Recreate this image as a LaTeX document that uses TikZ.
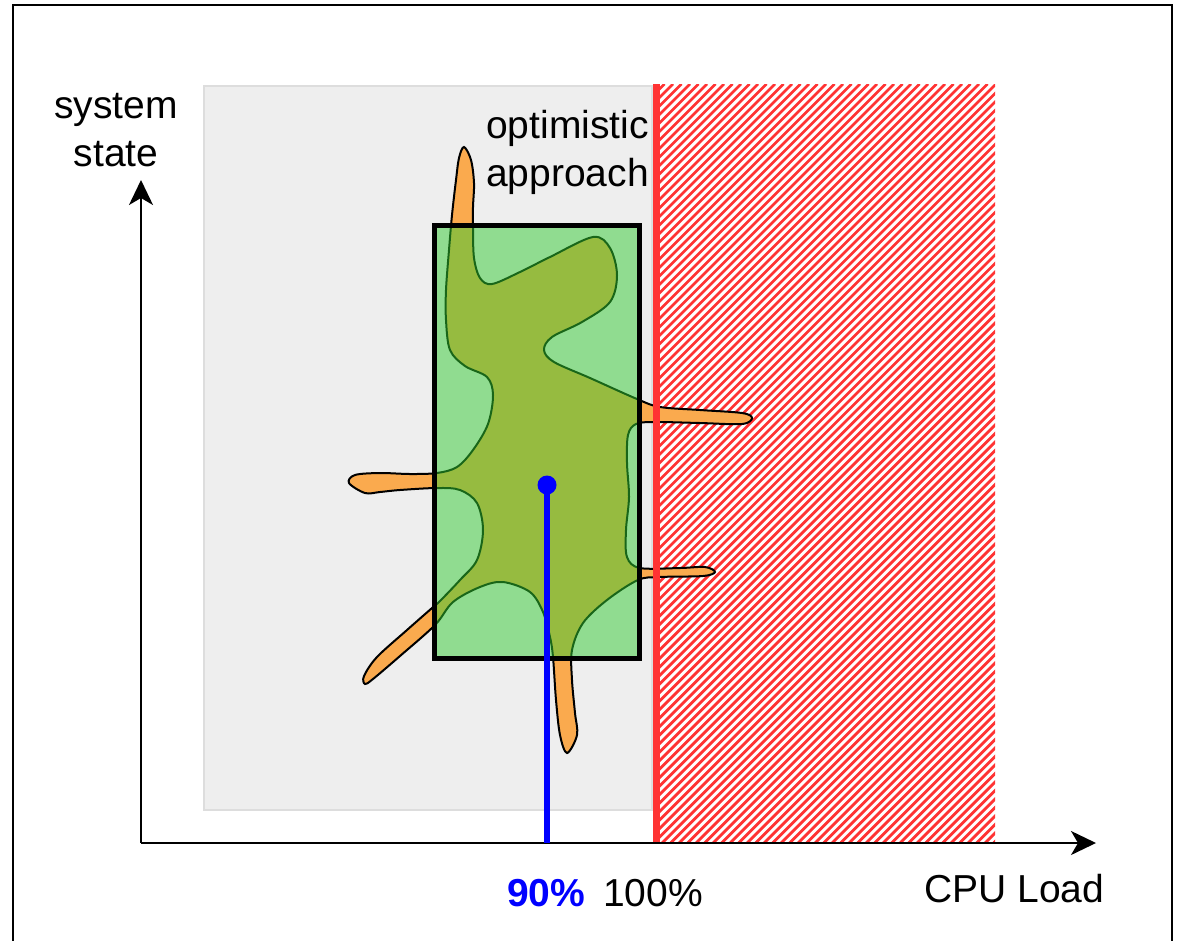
\documentclass[tikz,border=0pt]{standalone}
\usepackage{fontspec}
\setmainfont{Liberation Sans}
\usetikzlibrary{arrows.meta}
\definecolor{bggray}{HTML}{EEEEEE}
\definecolor{bgedge}{HTML}{DDDDDD}
\definecolor{hatchred}{HTML}{FF3333}
\definecolor{blobor}{HTML}{FAAA4E}
\definecolor{boxgreen}{HTML}{33CC33}
\definecolor{ptblue}{HTML}{0000FF}
\begin{document}
\begin{tikzpicture}[x=1pt,y=-1pt,
  lbl/.style={font=\fontsize{39}{48}\selectfont, inner sep=0pt},
  axisline/.style={line width=2pt, black, -{Stealth[length=25pt,width=24pt,inset=7pt]}},
  hatchline/.style={hatchred, line width=2.8pt},
  framestyle/.style={line width=2pt, black},
  regionbox/.style={fill=bggray, draw=bgedge, line width=2pt},
  blobstyle/.style={fill=blobor, draw=black, line width=2pt},
  windowbox/.style={fill=boxgreen, fill opacity=0.5, draw=black, draw opacity=1, line width=5pt},
  limitline/.style={hatchred, line width=7pt},
  meanline/.style={ptblue, line width=5.5pt}]
\useasboundingbox (0,0) rectangle (1180,940);
% outer frame
\draw[framestyle] (13,942) -- (13,5) -- (1172,5) -- (1172,942);
% feasible region
\draw[regionbox] (204,86) rectangle (652,810);
% hatched overload region
\begin{scope}
  \clip (656,84) rectangle (995,843);
  \foreach \i in {0,...,132} {
    \draw[hatchline] ({656-759+\i*8.5},843) -- ++(759,-759);
  }
\end{scope}
% blob of states
\draw[blobstyle] plot[smooth cycle, tension=0.55] coordinates {
 (464,147) (471,160) (474,183) (473,207) (473,228) (474,258) (480,278) (492,284)
 (520,272) (550,257) (593,237) (610,248) (617,275) (610,302) (582,322) (552,337)
 (544,350) (554,362) (590,378) (637,399) (660,407) (700,410) (742,413) (752,418)
 (742,424) (700,423) (655,422) (636,424) (628,435) (627,463) (629,497) (626,530)
 (627,557) (640,568) (680,568) (705,567) (715,572) (703,576) (660,577) (638,580)
 (607,600) (583,623) (572,650) (572,680) (575,713) (577,735) (567,753) (560,735)
 (556,700) (553,657) (550,637) (543,612) (530,592) (503,582) (480,587) (453,602)
 (435,625) (400,656) (373,679) (365,684) (364,676) (377,657) (407,630) (432,608)
 (440,601) (460,580) (477,560) (483,530) (477,503) (460,490) (437,488) (400,490)
 (380,492) (365,493) (349,483) (355,475) (380,473) (410,474) (437,473) (457,467)
 (473,450) (488,424) (493,395) (487,377) (465,366) (450,350) (446,320) (446,290)
 (449,250) (452,215) (456,180) (459,158)};
% optimistic window
\draw[windowbox] (434.5,225) rectangle (639,658);
% limit line at 100%
\coordinate (limtop) at (656,84);
\coordinate (limbot) at (656,843);
\draw[limitline] (limtop) -- (limbot);
% axes
\coordinate (origin) at (141,843);
\coordinate (ytip) at (141,180);
\coordinate (xtip) at (1096,843);
\draw[axisline] (origin) -- (ytip);
\draw[axisline] (origin) -- (xtip);
% mean point
\node[circle, fill=ptblue, inner sep=0pt, minimum size=19pt] (dot) at (547,485) {};
\coordinate (foot) at (547,843);
\draw[meanline] (dot.center) -- (foot);
% labels
\node[lbl, align=center, anchor=base] (ylab) at (116,166) {system\\state};
\node[lbl, align=right, anchor=base east] (optlab) at (649,186) {optimistic\\approach};
\node[lbl, anchor=base west, text=ptblue, font=\fontsize{39}{48}\selectfont\bfseries] (p90) at (507,906) {90\%};
\node[lbl, anchor=base west] (p100) at (603,906) {100\%};
\node[lbl, anchor=base west] (xlab) at (924,902) {CPU Load};
\end{tikzpicture}
\end{document}
